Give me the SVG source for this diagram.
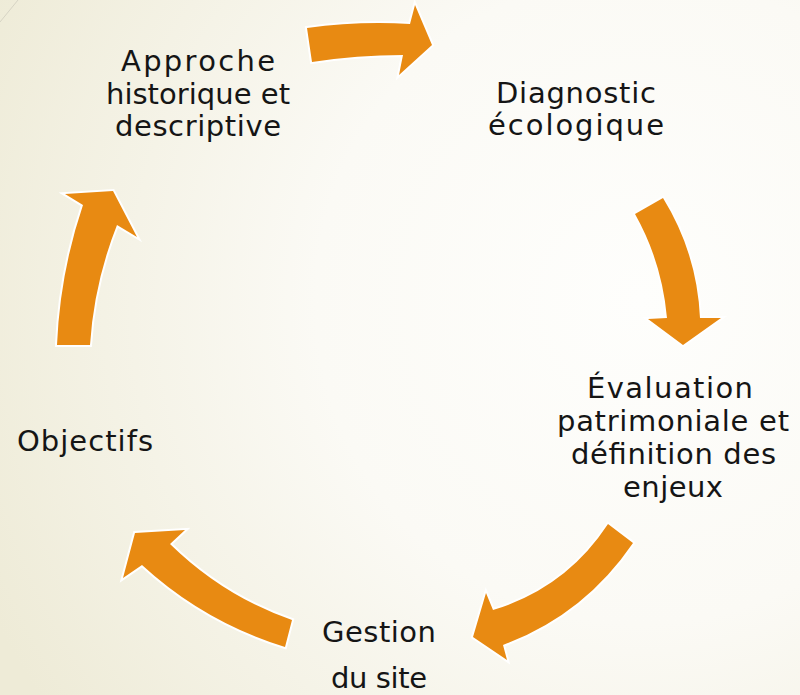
<svg xmlns="http://www.w3.org/2000/svg" width="800" height="695" viewBox="0 0 800 695">
  <defs>
    <radialGradient id="bg" gradientUnits="userSpaceOnUse" cx="640" cy="300" r="720">
      <stop offset="0" stop-color="#fefefc"/>
      <stop offset="0.45" stop-color="#fbfaf5"/>
      <stop offset="1" stop-color="#eeebd7"/>
    </radialGradient>
    <style>
      .arrow { fill: #e88a12; stroke: #ffffff; stroke-width: 4; stroke-linejoin: miter; paint-order: stroke; }
      .lbl { font-family: "DejaVu Sans", "Liberation Sans", sans-serif; font-size: 29px; fill: #151515; text-anchor: middle; }
    </style>
  </defs>
  <rect x="0" y="0" width="800" height="695" fill="url(#bg)"/>
  <line x1="0" y1="22" x2="18" y2="0" stroke="#d6d4c4" stroke-width="1"/>

  <g id="connectors">
    <path class="arrow" d="M 307,28 Q 358,21 410,24 L 415,5 L 432,45 L 399,75 L 403,55 Q 357,55 312,62 Z"/>
    <path class="arrow" d="M 635,214 L 663,198 Q 697,253 700,318 L 721,318 L 683,345 L 648,319 L 667,318 Q 662,262 635,214 Z"/>
    <path class="arrow" d="M 608,524 L 633,543 Q 584,615 503,645 L 507,660 L 473,637 L 486,593 L 493,610 Q 566,588 608,524 Z"/>
    <path class="arrow" d="M 292,620 L 285,647 Q 204,622 142,565 L 123,578 L 135,533 L 185,530 L 170,544 Q 223,596 292,620 Z"/>
    <path class="arrow" d="M 57,345 L 90,345 Q 94,283 117,225 L 137,237 L 113,191 L 65,194 L 83,205 Q 60,273 57,345 Z"/>
  </g>

  <g id="node-approche">
    <text class="lbl" x="198" y="71" textLength="154" lengthAdjust="spacing">Approche</text>
    <text class="lbl" x="198" y="103.5" textLength="184" lengthAdjust="spacing">historique et</text>
    <text class="lbl" x="198" y="136" textLength="166" lengthAdjust="spacing">descriptive</text>
  </g>
  <g id="node-diagnostic">
    <text class="lbl" x="576" y="103" textLength="160" lengthAdjust="spacing">Diagnostic</text>
    <text class="lbl" x="576" y="135" textLength="176" lengthAdjust="spacing">écologique</text>
  </g>
  <g id="node-evaluation">
    <text class="lbl" x="670" y="397.5" textLength="166" lengthAdjust="spacing">Évaluation</text>
    <text class="lbl" x="673" y="430.5" textLength="232" lengthAdjust="spacing">patrimoniale et</text>
    <text class="lbl" x="673.5" y="463.5" textLength="205" lengthAdjust="spacing">définition des</text>
    <text class="lbl" x="673" y="496.5" textLength="100" lengthAdjust="spacing">enjeux</text>
  </g>
  <g id="node-gestion">
    <text class="lbl" x="379" y="641.5" textLength="114" lengthAdjust="spacing">Gestion</text>
    <text class="lbl" x="379" y="688" textLength="96" lengthAdjust="spacing">du site</text>
  </g>
  <g id="node-objectifs">
    <text class="lbl" x="85" y="451" textLength="136" lengthAdjust="spacing">Objectifs</text>
  </g>
</svg>
